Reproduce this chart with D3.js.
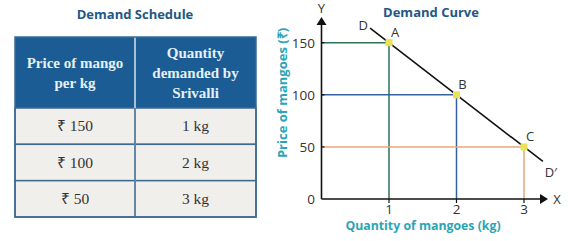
<!DOCTYPE html>
<html>
<head>
<meta charset="utf-8">
<script src="https://cdn.jsdelivr.net/npm/d3@7"></script>
<style>
  body { margin: 0; background: #fff; }
  svg { display: block; }
</style>
</head>
<body>
<svg id="chart" width="575" height="241"></svg>
<script>
// table data
const headers = [["Price of mango", "per kg"], ["Quantity", "demanded by", "Srivalli"]];
const priceLabels = ["₹ 150", "₹ 100", "₹ 50"];
const qtyLabels = ["1 kg", "2 kg", "3 kg"];

// curve data
const quantities = [1, 2, 3];
const prices = [150, 100, 50];
const pointNames = ["A", "B", "C"];
const guideColors = ["#2f7356", "#35629e", "#eba77a"];
const demandEnds = [[0.72, 164], [3.28, 36]];
const yTicks = [0, 50, 100, 150];
const xTicks = [1, 2, 3];

const svg = d3.select("#chart");

// ---------- TABLE ----------
const tbl = { left: 15, right: 256, top: 37, headBottom: 108, bottom: 217, split: 135 };
const rowY = d3.scaleBand().domain(d3.range(priceLabels.length))
  .range([tbl.headBottom, tbl.bottom]);

svg.append("text")
  .attr("x", 135).attr("y", 19)
  .attr("text-anchor", "middle")
  .attr("font-family", "Open Sans")
  .attr("font-weight", "bold")
  .attr("font-size", 13)
  .attr("fill", "#215886")
  .text("Demand Schedule");

svg.append("rect")
  .attr("x", tbl.left).attr("y", tbl.top)
  .attr("width", tbl.right - tbl.left).attr("height", tbl.headBottom - tbl.top)
  .attr("fill", "#1b5c95");

const rows = svg.append("g").selectAll("g").data(priceLabels).join("g");
rows.append("rect")
  .attr("x", tbl.left).attr("y", (d, i) => rowY(i))
  .attr("width", tbl.right - tbl.left).attr("height", rowY.bandwidth())
  .attr("fill", "#f1efeb")
  .attr("stroke", "#3d6993").attr("stroke-width", 1.5);
rows.append("text")
  .attr("x", (tbl.left + tbl.split) / 2)
  .attr("y", (d, i) => rowY(i) + rowY.bandwidth() / 2 + 5)
  .attr("text-anchor", "middle")
  .attr("font-family", "Liberation Serif").attr("font-size", 15.5)
  .attr("fill", "#333")
  .text(d => d);
rows.append("text")
  .attr("x", (tbl.split + tbl.right) / 2)
  .attr("y", (d, i) => rowY(i) + rowY.bandwidth() / 2 + 5)
  .attr("text-anchor", "middle")
  .attr("font-family", "Liberation Serif").attr("font-size", 15.5)
  .attr("fill", "#333")
  .text((d, i) => qtyLabels[i]);

svg.append("line")
  .attr("x1", tbl.split).attr("x2", tbl.split)
  .attr("y1", tbl.top).attr("y2", tbl.bottom)
  .attr("stroke", "#d8e2ea").attr("stroke-width", 1.5);
svg.append("line")
  .attr("x1", tbl.split).attr("x2", tbl.split)
  .attr("y1", tbl.headBottom).attr("y2", tbl.bottom)
  .attr("stroke", "#3d6993").attr("stroke-width", 1.5);
svg.append("rect")
  .attr("x", tbl.left).attr("y", tbl.top)
  .attr("width", tbl.right - tbl.left).attr("height", tbl.bottom - tbl.top)
  .attr("fill", "none").attr("stroke", "#3d6993").attr("stroke-width", 1.5);

const headCx = [(tbl.left + tbl.split) / 2, (tbl.split + tbl.right) / 2];
headers.forEach((lines, c) => {
  const mid = (tbl.top + tbl.headBottom) / 2;
  const lh = 20;
  lines.forEach((t, j) => {
    svg.append("text")
      .attr("x", headCx[c])
      .attr("y", mid + (j - (lines.length - 1) / 2) * lh + 5)
      .attr("text-anchor", "middle")
      .attr("font-family", "Liberation Serif").attr("font-weight", "bold")
      .attr("font-size", 15)
      .attr("fill", "#e6f0f2")
      .text(t);
  });
});

// ---------- DEMAND CURVE ----------
const x = d3.scaleLinear().domain([0, 3]).range([321.5, 524]);
const y = d3.scaleLinear().domain([0, 150]).range([199, 42.7]);
const axisCol = "#111";

svg.append("text")
  .attr("x", 431).attr("y", 17)
  .attr("text-anchor", "middle")
  .attr("font-family", "Open Sans").attr("font-weight", "bold")
  .attr("font-size", 13).attr("fill", "#215886")
  .text("Demand Curve");

// guide lines
const g = svg.append("g");
quantities.forEach((q, i) => {
  g.append("path")
    .attr("d", `M${x(0)},${y(prices[i])}H${x(q)}V${y(0)}`)
    .attr("fill", "none")
    .attr("stroke", guideColors[i]).attr("stroke-width", 1.5);
});

// axes
svg.append("line")
  .attr("x1", x(0)).attr("x2", x(0)).attr("y1", y(0)).attr("y2", 24)
  .attr("stroke", axisCol).attr("stroke-width", 1.6);
svg.append("path")
  .attr("d", `M${x(0)},17L${x(0) - 5},25L${x(0) + 5},25Z`).attr("fill", axisCol);
svg.append("line")
  .attr("x1", x(0)).attr("x2", 541).attr("y1", y(0)).attr("y2", y(0))
  .attr("stroke", axisCol).attr("stroke-width", 1.6);
svg.append("path")
  .attr("d", `M548,${y(0)}L540,${y(0) - 5}L540,${y(0) + 5}Z`).attr("fill", axisCol);

svg.append("g").selectAll("line").data(yTicks.filter(d => d > 0)).join("line")
  .attr("x1", x(0)).attr("x2", x(0) + 3)
  .attr("y1", d => y(d)).attr("y2", d => y(d))
  .attr("stroke", axisCol).attr("stroke-width", 1.2);
svg.append("g").selectAll("line").data(xTicks).join("line")
  .attr("x1", d => x(d)).attr("x2", d => x(d))
  .attr("y1", y(0)).attr("y2", y(0) + 4)
  .attr("stroke", axisCol).attr("stroke-width", 1.2);

svg.append("g").selectAll("text").data(yTicks).join("text")
  .attr("x", 315).attr("y", d => y(d) + 5)
  .attr("text-anchor", "end")
  .attr("font-family", "Open Sans").attr("font-size", 13.5).attr("fill", "#333")
  .text(d => d);
svg.append("g").selectAll("text").data(xTicks).join("text")
  .attr("x", d => x(d)).attr("y", 214)
  .attr("text-anchor", "middle")
  .attr("font-family", "Open Sans").attr("font-size", 13.5).attr("fill", "#333")
  .text(d => d);

svg.append("text").attr("x", x(0)).attr("y", 13).attr("text-anchor", "middle")
  .attr("font-family", "Open Sans").attr("font-size", 13).attr("fill", "#333").text("Y");
svg.append("text").attr("x", 557).attr("y", y(0) + 5).attr("text-anchor", "middle")
  .attr("font-family", "Open Sans").attr("font-size", 13).attr("fill", "#333").text("X");

// axis titles
svg.append("text")
  .attr("x", 423).attr("y", 230).attr("text-anchor", "middle")
  .attr("font-family", "Open Sans").attr("font-weight", "bold")
  .attr("font-size", 12.3).attr("fill", "#2ba5b5")
  .text("Quantity of mangoes (kg)");
svg.append("text")
  .attr("transform", `translate(287,93) rotate(-90)`)
  .attr("text-anchor", "middle")
  .attr("font-family", "Open Sans").attr("font-weight", "bold")
  .attr("font-size", 13).attr("fill", "#2ba5b5")
  .text("Price of mangoes (₹)");

// demand line
svg.append("path")
  .datum(demandEnds)
  .attr("d", d3.line().x(d => x(d[0])).y(d => y(d[1])))
  .attr("stroke", "#111").attr("stroke-width", 1.6).attr("fill", "none");

svg.append("text").attr("x", x(demandEnds[0][0]) - 7).attr("y", y(demandEnds[0][1]) + 2)
  .attr("text-anchor", "middle")
  .attr("font-family", "Open Sans").attr("font-size", 13).attr("fill", "#333").text("D");
svg.append("text").attr("x", x(demandEnds[1][0]) + 8).attr("y", y(demandEnds[1][1]) + 16)
  .attr("text-anchor", "middle")
  .attr("font-family", "Open Sans").attr("font-size", 13).attr("fill", "#333").text("D′");

// points
svg.append("g").selectAll("rect").data(quantities).join("rect")
  .attr("x", d => x(d) - 3.5).attr("y", (d, i) => y(prices[i]) - 3.5)
  .attr("width", 7).attr("height", 7)
  .attr("fill", "#ece25a");
svg.append("g").selectAll("text").data(pointNames).join("text")
  .attr("x", (d, i) => x(quantities[i]) + 6).attr("y", (d, i) => y(prices[i]) - 6)
  .attr("text-anchor", "middle")
  .attr("font-family", "Open Sans").attr("font-size", 13).attr("fill", "#333")
  .text(d => d);
</script>
</body>
</html>
